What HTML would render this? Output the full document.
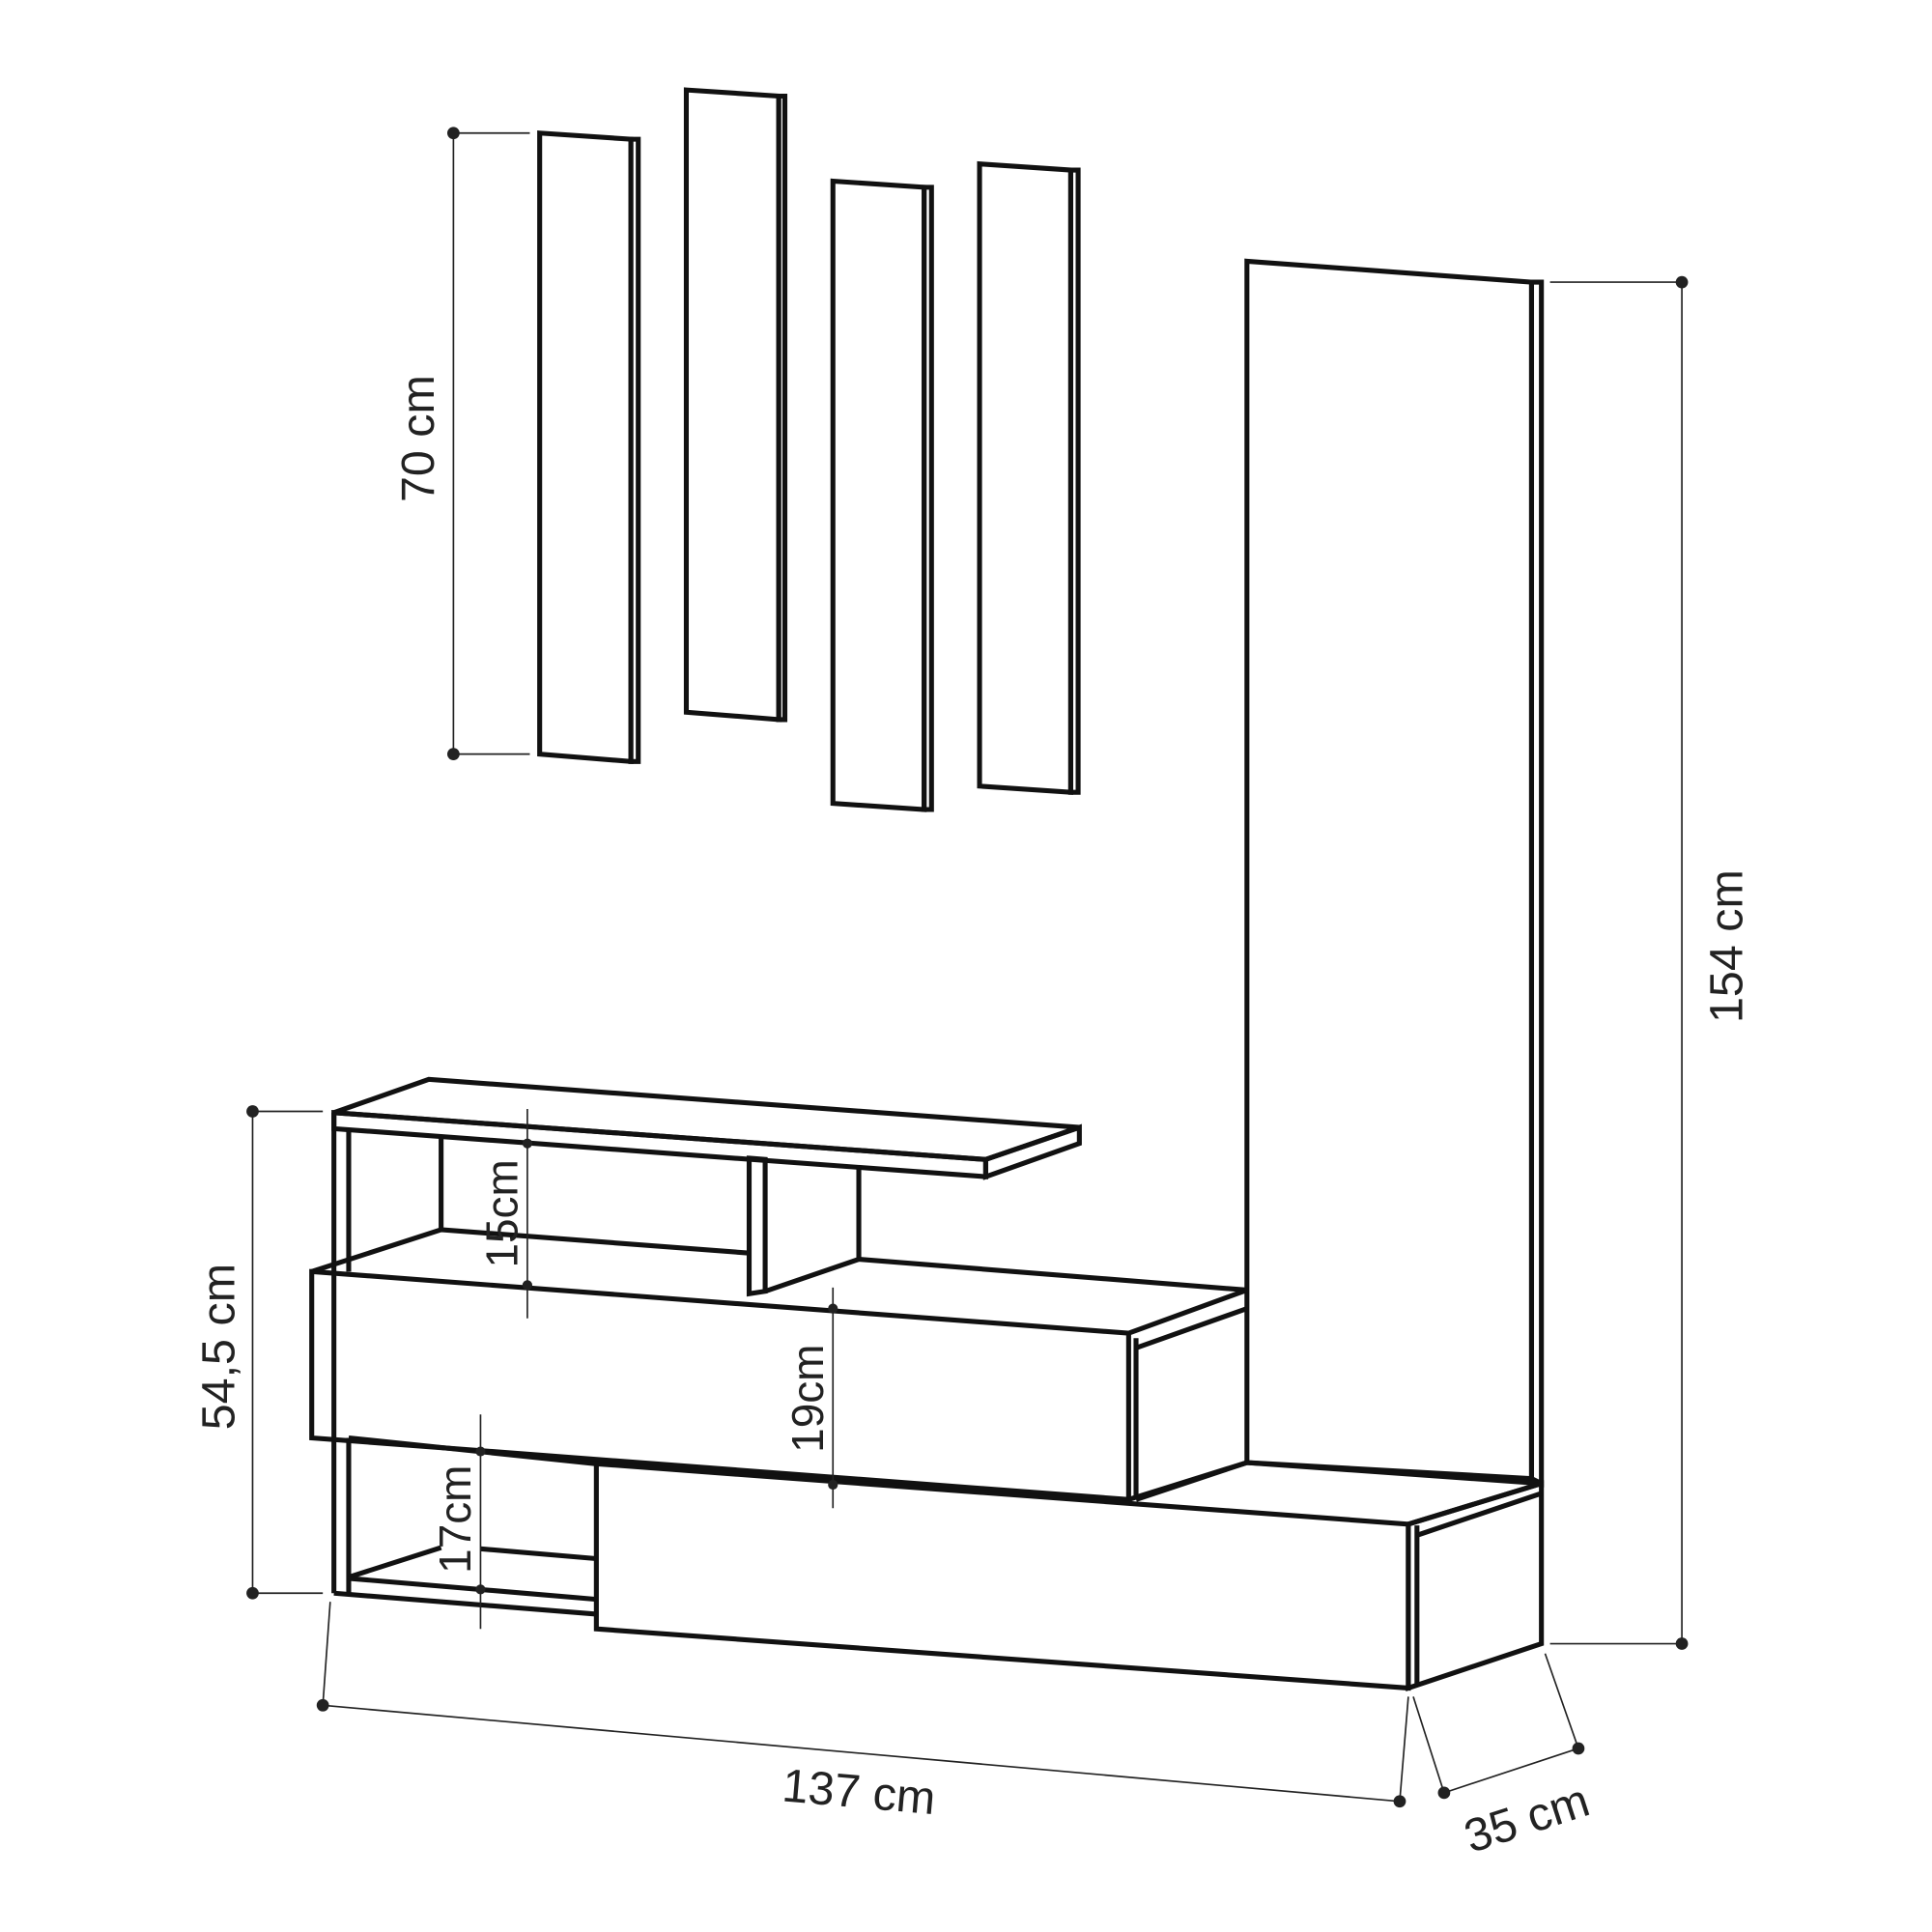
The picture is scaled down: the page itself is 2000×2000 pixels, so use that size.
<!DOCTYPE html>
<html><head><style>html,body{margin:0;padding:0;background:#fff}svg{display:block}</style></head>
<body>
<svg width="2000" height="2000" viewBox="0 0 1568 1568" xmlns="http://www.w3.org/2000/svg">
<g fill="none" stroke="#111" stroke-width="4" stroke-linejoin="miter">
<polygon points="438,108 512,113 512,618 438,612"/><polygon points="512,113 518,113 518,618 512,618"/>
<polygon points="557,73 632,78 632,584 557,578"/><polygon points="632,78 637,78 637,584 632,584"/>
<polygon points="676,147 750,152 750,657 676,652"/><polygon points="750,152 756,152 756,657 750,657"/>
<polygon points="795,133 869,138 869,643 795,638"/><polygon points="869,138 875,138 875,643 869,643"/>
<polygon points="1012,212 1243,229 1243,1200 1012,1187"/><polygon points="1243,229 1251,229 1251,1204 1243,1200"/>
<polygon points="271,903 348,876 876,915 800,941"/>
<polygon points="271,903 800,941 800,955 271,916"/>
<polygon points="800,941 876,915 876,928 800,955"/>
<polyline points="271,903 271,1293"/><polyline points="283,916 283,1032"/><polyline points="283,1167 283,1293"/>
<polyline points="358,922 358,998"/>
<polygon points="608,940 621,941 621,1048 608,1050"/><polyline points="697,946 697,1022"/>
<polyline points="621,1048 697,1022"/>
<polyline points="253,1032 358,998 608,1017"/>
<polyline points="697,1022 1012,1047"/>
<polygon points="253,1032 916,1082 916,1217 253,1167"/>
<polyline points="916,1082 1012,1047"/>
<polyline points="922,1094 1012,1062"/>
<polyline points="922,1086 922,1217"/>
<polyline points="916,1217 1012,1187"/>
<polyline points="922,1217 1012,1187 1251,1204 1143,1237"/>
<polyline points="283,1167 484,1188"/>
<polygon points="484,1188 1143,1237 1143,1370 484,1322"/>
<polygon points="1143,1237 1251,1204 1251,1334 1143,1370"/>
<polyline points="1150,1238 1150,1368"/>
<polyline points="1150,1246 1251,1212"/>
<polyline points="283,1280 358,1256"/>
<polyline points="390,1257 484,1265"/>
<polyline points="283,1281 484,1298"/>
<polyline points="271,1293 484,1310"/>
</g>
<g stroke="#222" stroke-width="1.3" fill="none">
<line x1="368" y1="108" x2="368" y2="612"/><line x1="368" y1="108" x2="430" y2="108"/><line x1="368" y1="612" x2="430" y2="612"/>
<line x1="1365" y1="229" x2="1365" y2="1334"/><line x1="1258" y1="229" x2="1365" y2="229"/><line x1="1258" y1="1334" x2="1365" y2="1334"/>
<line x1="205" y1="902" x2="205" y2="1293"/><line x1="205" y1="902" x2="262" y2="902"/><line x1="205" y1="1293" x2="262" y2="1293"/>
<line x1="262" y1="1384" x2="1136" y2="1462"/><line x1="268" y1="1300" x2="262" y2="1384"/><line x1="1143" y1="1377" x2="1136" y2="1462"/>
<line x1="1172" y1="1455" x2="1281" y2="1419"/><line x1="1147" y1="1377" x2="1172" y2="1455"/><line x1="1254" y1="1342" x2="1281" y2="1419"/>
<line x1="428" y1="900" x2="428" y2="1070"/>
<line x1="676" y1="1045" x2="676" y2="1224"/>
<line x1="390" y1="1148" x2="390" y2="1322"/>
</g>
<g fill="#222">
<circle cx="368" cy="108" r="5"/><circle cx="368" cy="612" r="5"/>
<circle cx="1365" cy="229" r="5"/><circle cx="1365" cy="1334" r="5"/>
<circle cx="205" cy="902" r="5"/><circle cx="205" cy="1293" r="5"/>
<circle cx="262" cy="1384" r="5"/><circle cx="1136" cy="1462" r="5"/>
<circle cx="1172" cy="1455" r="5"/><circle cx="1281" cy="1419" r="5"/>
<circle cx="428" cy="928" r="4"/><circle cx="428" cy="1043" r="4"/>
<circle cx="676" cy="1062" r="4"/><circle cx="676" cy="1205" r="4"/>
<circle cx="390" cy="1178" r="4"/><circle cx="390" cy="1290" r="4"/>
</g>
<g font-family="Liberation Sans, sans-serif" fill="#222" text-anchor="middle">
<text font-size="38" transform="translate(352,356) rotate(-90)">70 cm</text>
<text font-size="38" transform="translate(1414,768) rotate(-90)">154 cm</text>
<text font-size="38" transform="translate(190,1093) rotate(-90)">54,5 cm</text>
<text font-size="38" transform="translate(696,1467) rotate(5)">137 cm</text>
<text font-size="38" transform="translate(1243,1488) rotate(-18)">35 cm</text>
<text font-size="36" transform="translate(420,985) rotate(-90)">15cm</text>
<text font-size="36" transform="translate(668,1135) rotate(-90)">19cm</text>
<text font-size="36" transform="translate(382,1233) rotate(-90)">17cm</text>
</g>
</svg>
</body></html>
